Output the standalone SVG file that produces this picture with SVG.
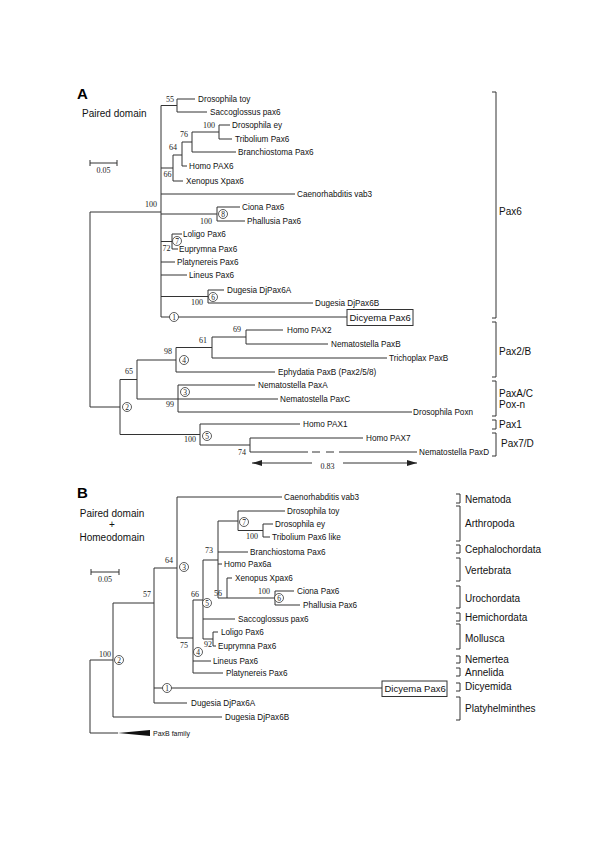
<svg xmlns="http://www.w3.org/2000/svg" width="600" height="848" viewBox="0 0 600 848">
<defs>
<style>
.br{fill:none;stroke:#333;stroke-width:1}
.lf{font-family:"Liberation Sans",Arial,sans-serif;font-size:8.2px;fill:#111}
.bs{font-family:"Liberation Serif","Times New Roman",serif;font-size:8px;fill:#222;text-anchor:end}
.cn circle{fill:#fff;stroke:#333;stroke-width:0.8}
.cn text{font-family:"Liberation Serif",serif;font-size:7.5px;text-anchor:middle;fill:#222}
.gl{font-family:"Liberation Sans",Arial,sans-serif;font-size:10px;fill:#111}
.pl{font-family:"Liberation Sans",Arial,sans-serif;font-size:15px;font-weight:bold;fill:#000}
.box{fill:#fff;stroke:#333;stroke-width:1}
.bx{font-family:"Liberation Sans",Arial,sans-serif;font-size:9.5px;fill:#111}
.sc{font-family:"Liberation Serif",serif;font-size:8px;fill:#222;text-anchor:middle}
</style>
<marker id="ah" viewBox="0 0 10 6" refX="10" refY="3" markerWidth="10" markerHeight="6" markerUnits="userSpaceOnUse" orient="auto-start-reverse"><path d="M0,0 L10,3 L0,6 Z" fill="#222"/></marker>
</defs>
<rect width="600" height="848" fill="#fff"/>

<!-- Panel titles -->
<text class="pl" x="77" y="99">A</text>
<text class="gl" x="82" y="117">Paired domain</text>
<text class="pl" x="77" y="498">B</text>
<text class="gl" x="112" y="517" text-anchor="middle">Paired domain</text>
<text class="gl" x="112" y="528" text-anchor="middle">+</text>
<text class="gl" x="112" y="541" text-anchor="middle">Homeodomain</text>

<!-- scale bars -->
<g id="scaleA"><path class="br" d="M90,163 H117 M90,160 V166 M117,160 V166"/><text class="sc" x="103.5" y="173">0.05</text></g>
<g id="scaleB"><path class="br" d="M91,572 H119 M91,569 V575 M119,569 V575"/><text class="sc" x="105" y="582">0.05</text></g>

<g id="connectors">
<!-- Panel A -->
<path class="br" d="M90,212 V407 M90,212 H161 M90,407 H120"/>
<path class="br" d="M161,105.5 V317"/>
<path class="br" d="M161,105.5 H177 M177,99 V112 M177,99 H195 M177,112 H207"/>
<path class="br" d="M161,168 H173 M173,155 V181 M173,181 H183"/>
<path class="br" d="M173,155 H182 M182,142 V166 M182,166 H187"/>
<path class="br" d="M182,142 H192 M192,132 V152 M192,152 H236"/>
<path class="br" d="M192,132 H219 M219,125 V139 M219,125 H230 M219,139 H232"/>
<path class="br" d="M161,194 H295"/>
<path class="br" d="M161,214 H217 M217,207 V221 M217,207 H240 M217,221 H245"/>
<path class="br" d="M161,241.5 H172 M172,234 V249 M172,234 H182 M172,249 H178"/>
<path class="br" d="M161,262 H175 M161,275 H187"/>
<path class="br" d="M161,296.5 H208 M208,290 V303 M208,290 H224 M208,303 H313"/>
<path class="br" d="M161,317 H347"/>
<path class="br" d="M120,379.5 V434.5"/>
<path class="br" d="M120,379.5 H137 M137,360 V399"/>
<path class="br" d="M137,360 H176 M176,347.5 V372 M176,372 H275"/>
<path class="br" d="M176,347.5 H212 M212,337 V358 M212,358 H387"/>
<path class="br" d="M212,337 H246 M246,330 V344 M246,330 H283 M246,344 H328"/>
<path class="br" d="M137,399 H278 M178,385 V412 M178,385 H255 M178,412 H412"/>
<path class="br" d="M120,434.5 H200 M200,424 V445 M200,424 H300"/>
<path class="br" d="M200,445 H250 M250,438 V452 M250,438 H363 M250,452 H308 M312,452 H320 M326,452 H334 M339,452 H417"/>
<path class="br" d="M312,463 H252" marker-end="url(#ah)"/>
<path class="br" d="M343,463 H417" marker-end="url(#ah)"/>
<!-- Panel B -->
<path class="br" d="M90,660 V733 M90,660 H113 M90,733 H118"/>
<path d="M118,733 L150,730 L150,736 Z" fill="#111"/>
<path class="br" d="M113,603 V717 M113,717 H222"/>
<path class="br" d="M113,603 H154 M154,568 V703 M154,703 H187 M154,688 H382"/>
<path class="br" d="M154,568 H177 M177,497 V638 M177,497 H282"/>
<path class="br" d="M177,638 H193 M193,600 V673 M193,661 H211 M193,673 H223"/>
<path class="br" d="M193,600 H203 M203,560 V639 M203,619 H235"/>
<path class="br" d="M203,639 H213 M213,632 V646 M213,632 H218 M213,646 H216"/>
<path class="br" d="M203,560 H218 M218,521 V598 M218,552 H248 M218,564 H222 M218,598 H275"/>
<path class="br" d="M227,578 V598 M227,578 H232"/>
<path class="br" d="M275,591 V605 M275,591 H294 M275,605 H300"/>
<path class="br" d="M218,521 H238 M238,511 V530.5 M238,511 H285"/>
<path class="br" d="M238,530.5 H263 M263,524 V537 M263,524 H273 M263,537 H270"/>
<!-- brackets A -->
<path class="br" d="M492,92 H496 V318 H492"/>
<path class="br" d="M492,322 H496 V377 H492"/>
<path class="br" d="M492,381 H496 V416 H492"/>
<path class="br" d="M492,420 H496 V429 H492"/>
<path class="br" d="M492,433 H496 V456 H492"/>
<!-- brackets B -->
<path class="br" d="M456,494 H460 V503 H456"/>
<path class="br" d="M456,506 H460 V541 H456"/>
<path class="br" d="M456,545 H460 V553 H456"/>
<path class="br" d="M456,558 H460 V581 H456"/>
<path class="br" d="M456,586 H460 V608 H456"/>
<path class="br" d="M456,613 H460 V621 H456"/>
<path class="br" d="M456,624 H460 V649 H456"/>
<path class="br" d="M456,656 H460 V663 H456"/>
<path class="br" d="M456,668 H460 V676 H456"/>
<path class="br" d="M456,683 H460 V691 H456"/>
<path class="br" d="M456,697 H460 V720 H456"/>
</g>

<!-- Panel A leaves -->
<g id="A-toy"><text class="lf" x="198" y="102">Drosophila toy</text></g>
<g id="A-sacco"><text class="lf" x="210" y="115">Saccoglossus pax6</text></g>
<g id="A-ey"><text class="lf" x="232" y="128">Drosophila ey</text></g>
<g id="A-trib"><text class="lf" x="235" y="142">Tribolium Pax6</text></g>
<g id="A-branch"><text class="lf" x="238" y="155">Branchiostoma Pax6</text></g>
<g id="A-homo6"><text class="lf" x="189" y="169">Homo PAX6</text></g>
<g id="A-xen"><text class="lf" x="186" y="184">Xenopus Xpax6</text></g>
<g id="A-caeno"><text class="lf" x="297" y="197">Caenorhabditis vab3</text></g>
<g id="A-ciona"><text class="lf" x="242" y="210">Ciona Pax6</text></g>
<g id="A-phal"><text class="lf" x="247" y="224">Phallusia Pax6</text></g>
<g id="A-loligo"><text class="lf" x="183" y="237">Loligo Pax6</text></g>
<g id="A-eup"><text class="lf" x="179" y="252">Euprymna Pax6</text></g>
<g id="A-platy"><text class="lf" x="177" y="265">Platynereis Pax6</text></g>
<g id="A-lineus"><text class="lf" x="189" y="278">Lineus Pax6</text></g>
<g id="A-dja"><text class="lf" x="227" y="293">Dugesia DjPax6A</text></g>
<g id="A-djb"><text class="lf" x="315" y="306">Dugesia DjPax6B</text></g>
<g id="A-dicyema"><rect class="box" x="347" y="309.5" width="66" height="16"/><text class="bx" x="349.5" y="321">Dicyema Pax6</text></g>
<g id="A-pax2"><text class="lf" x="287" y="333">Homo PAX2</text></g>
<g id="A-nemb"><text class="lf" x="331" y="347">Nematostella PaxB</text></g>
<g id="A-trich"><text class="lf" x="389" y="361">Trichoplax PaxB</text></g>
<g id="A-ephy"><text class="lf" x="278" y="375">Ephydatia PaxB (Pax2/5/8)</text></g>
<g id="A-nema"><text class="lf" x="258" y="388">Nematostella PaxA</text></g>
<g id="A-nemc"><text class="lf" x="280" y="402">Nematostella PaxC</text></g>
<g id="A-poxn"><text class="lf" x="413" y="415">Drosophila Poxn</text></g>
<g id="A-pax1"><text class="lf" x="303" y="427">Homo PAX1</text></g>
<g id="A-pax7"><text class="lf" x="366" y="441">Homo PAX7</text></g>
<g id="A-nemd"><text class="lf" x="419" y="455">Nematostella PaxD</text></g>
<g id="A-scale083"><text class="sc" x="327.5" y="469">0.83</text></g>

<!-- Panel A bootstrap -->
<g id="A-boot">
<text class="bs" x="174" y="102">55</text>
<text class="bs" x="215" y="127.5">100</text>
<text class="bs" x="188" y="137">76</text>
<text class="bs" x="177" y="150">64</text>
<text class="bs" x="171.5" y="176.5">66</text>
<text class="bs" x="157" y="207">100</text>
<text class="bs" x="212" y="224">100</text>
<text class="bs" x="170.5" y="251">72</text>
<text class="bs" x="203" y="305">100</text>
<text class="bs" x="241" y="332">69</text>
<text class="bs" x="207" y="343">61</text>
<text class="bs" x="172" y="354">98</text>
<text class="bs" x="133" y="374">65</text>
<text class="bs" x="174" y="407">99</text>
<text class="bs" x="196" y="442">100</text>
<text class="bs" x="246" y="455">74</text>
</g>
<g id="A-circles" class="cn">
<g id="A-c8"><circle cx="223" cy="214" r="4.5"/><text x="223" y="216.7">8</text></g>
<g id="A-c7"><circle cx="177" cy="241" r="4.5"/><text x="177" y="243.7">7</text></g>
<g id="A-c6"><circle cx="213" cy="297" r="4.5"/><text x="213" y="299.7">6</text></g>
<g id="A-c1"><circle cx="174" cy="317" r="4.5"/><text x="174" y="319.7">1</text></g>
<g id="A-c4"><circle cx="184" cy="360" r="4.5"/><text x="184" y="362.7">4</text></g>
<g id="A-c3"><circle cx="185" cy="392" r="4.5"/><text x="185" y="394.7">3</text></g>
<g id="A-c2"><circle cx="127" cy="407" r="4.5"/><text x="127" y="409.7">2</text></g>
<g id="A-c5"><circle cx="207" cy="436" r="4.5"/><text x="207" y="438.7">5</text></g>
</g>

<!-- Panel A group labels -->
<g id="A-groups">
<text class="gl" x="499" y="215">Pax6</text>
<text class="gl" x="499" y="355">Pax2/B</text>
<text class="gl" x="499" y="397">PaxA/C</text>
<text class="gl" x="499" y="408">Pox-n</text>
<text class="gl" x="499" y="428">Pax1</text>
<text class="gl" x="501" y="447">Pax7/D</text>
</g>

<!-- Panel B leaves -->
<g id="B-caeno"><text class="lf" x="284" y="500">Caenorhabditis vab3</text></g>
<g id="B-toy"><text class="lf" x="287" y="514">Drosophila toy</text></g>
<g id="B-ey"><text class="lf" x="275" y="527">Drosophila ey</text></g>
<g id="B-trib"><text class="lf" x="272" y="540">Tribolium Pax6 like</text></g>
<g id="B-branch"><text class="lf" x="250" y="555">Branchiostoma Pax6</text></g>
<g id="B-homo"><text class="lf" x="224" y="567">Homo Pax6a</text></g>
<g id="B-xen"><text class="lf" x="235" y="581">Xenopus Xpax6</text></g>
<g id="B-ciona"><text class="lf" x="297" y="594">Ciona Pax6</text></g>
<g id="B-phal"><text class="lf" x="303" y="608">Phallusia Pax6</text></g>
<g id="B-sacco"><text class="lf" x="238" y="622">Saccoglossus pax6</text></g>
<g id="B-loligo"><text class="lf" x="221" y="635">Loligo Pax6</text></g>
<g id="B-eup"><text class="lf" x="218" y="649">Euprymna Pax6</text></g>
<g id="B-lineus"><text class="lf" x="213" y="664">Lineus Pax6</text></g>
<g id="B-platy"><text class="lf" x="226" y="676">Platynereis Pax6</text></g>
<g id="B-dicyema"><rect class="box" x="382" y="681" width="65" height="15.5"/><text class="bx" x="384.5" y="692.3">Dicyema Pax6</text></g>
<g id="B-dja"><text class="lf" x="191" y="706">Dugesia DjPax6A</text></g>
<g id="B-djb"><text class="lf" x="225" y="720">Dugesia DjPax6B</text></g>
<g id="B-paxb"><text class="lf" x="153" y="736" style="font-size:7px">PaxB family</text></g>

<!-- Panel B bootstrap -->
<g id="B-boot">
<text class="bs" x="173" y="563">64</text>
<text class="bs" x="258" y="538.5">100</text>
<text class="bs" x="213" y="553">73</text>
<text class="bs" x="222" y="596">56</text>
<text class="bs" x="270" y="594">100</text>
<text class="bs" x="199" y="597">66</text>
<text class="bs" x="151" y="597">57</text>
<text class="bs" x="212" y="647">92</text>
<text class="bs" x="188" y="648">75</text>
<text class="bs" x="111" y="657">100</text>
</g>
<g id="B-circles" class="cn">
<g id="B-c7"><circle cx="244" cy="522" r="4.5"/><text x="244" y="524.7">7</text></g>
<g id="B-c3"><circle cx="184" cy="567" r="4.5"/><text x="184" y="569.7">3</text></g>
<g id="B-c6"><circle cx="279" cy="598" r="4.5"/><text x="279" y="600.7">6</text></g>
<g id="B-c5"><circle cx="207" cy="603" r="4.5"/><text x="207" y="605.7">5</text></g>
<g id="B-c4"><circle cx="198" cy="652" r="4.5"/><text x="198" y="654.7">4</text></g>
<g id="B-c1"><circle cx="167" cy="688" r="4.5"/><text x="167" y="690.7">1</text></g>
<g id="B-c2"><circle cx="119" cy="660" r="4.5"/><text x="119" y="662.7">2</text></g>
</g>

<!-- Panel B group labels -->
<g id="B-groups">
<text class="gl" x="465" y="503">Nematoda</text>
<text class="gl" x="465" y="527">Arthropoda</text>
<text class="gl" x="465" y="553">Cephalochordata</text>
<text class="gl" x="465" y="574">Vertebrata</text>
<text class="gl" x="465" y="602">Urochordata</text>
<text class="gl" x="465" y="621">Hemichordata</text>
<text class="gl" x="465" y="642">Mollusca</text>
<text class="gl" x="465" y="663">Nemertea</text>
<text class="gl" x="465" y="676">Annelida</text>
<text class="gl" x="465" y="690">Dicyemida</text>
<text class="gl" x="465" y="712">Platyhelminthes</text>
</g>
</svg>
